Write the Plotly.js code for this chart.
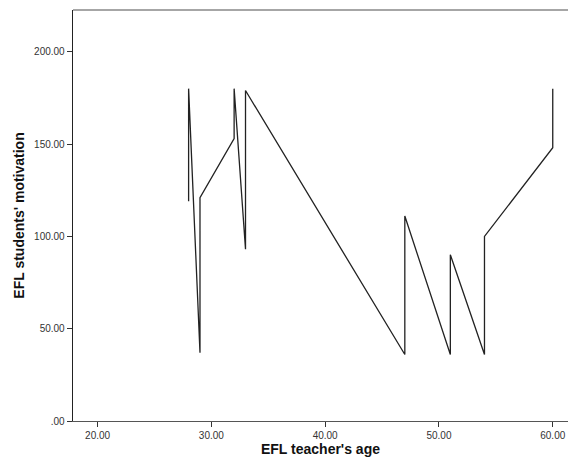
<!DOCTYPE html>
<html>
<head>
<meta charset="utf-8">
<script src="https://cdn.plot.ly/plotly-3.0.1.min.js"></script>
<style>html,body{margin:0;padding:0;background:#fff;}#chart{width:568px;height:464px;}</style>
</head>
<body>
<div id="chart"></div>
<script>
const teacherAge = [28, 28, 29, 29, 32, 32, 33, 33, 47, 47, 51, 51, 54, 54, 60, 60];
const motivation = [119, 180, 37, 121, 153, 180, 93, 179, 36, 111, 36, 90, 36, 100, 148, 180];
const xTickVals = [20, 30, 40, 50, 60];
const xTickText = ["20.00", "30.00", "40.00", "50.00", "60.00"];
const yTickVals = [0, 50, 100, 150, 200];
const yTickText = [".00", "50.00", "100.00", "150.00", "200.00"];

const trace = {
  x: teacherAge, y: motivation, type: 'scatter', mode: 'lines',
  line: {color: '#222222', width: 1.3}, hoverinfo: 'skip'
};
const font = {family: 'Liberation Sans, Arial, sans-serif', color: '#222'};
const layout = {
  width: 568, height: 464,
  margin: {l: 73, r: 0, t: 10, b: 43},
  paper_bgcolor: '#fff', plot_bgcolor: '#fff',
  showlegend: false,
  font: font,
  xaxis: {
    range: [17.84, 61.34], tickvals: xTickVals, ticktext: xTickText,
    ticks: 'outside', ticklen: 5, tickcolor: '#333', tickwidth: 1,
    showgrid: false, zeroline: false, showline: true, linecolor: '#555', linewidth: 1,
    tickfont: {size: 10, color: '#333', family: font.family},
    title: {text: "EFL teacher's age", font: {size: 14, color: '#111', family: font.family, weight: 'bold'}, standoff: 3}
  },
  yaxis: {
    range: [0, 222.6], tickvals: yTickVals, ticktext: yTickText,
    ticks: 'outside', ticklen: 5, tickcolor: '#333', tickwidth: 1,
    showgrid: false, zeroline: false, showline: true, linecolor: '#222', linewidth: 1.3,
    tickfont: {size: 10, color: '#333', family: font.family},
    title: {text: "EFL students' motivation", font: {size: 14, color: '#111', family: font.family, weight: 'bold'}, standoff: 6}
  },
  shapes: [{type: 'line', xref: 'paper', yref: 'paper', x0: 0, x1: 1, y0: 1, y1: 1, line: {color: '#888', width: 1.5}}]
};
Plotly.newPlot('chart', [trace], layout, {displayModeBar: false, staticPlot: true});
</script>
</body>
</html>
